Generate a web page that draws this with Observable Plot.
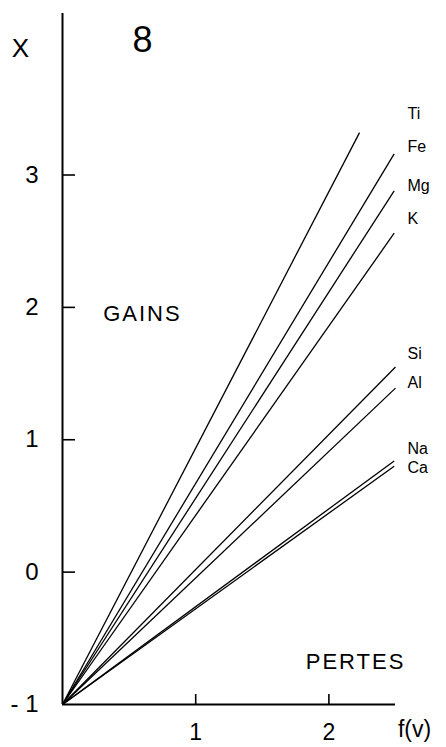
<!DOCTYPE html>
<html>
<head>
<meta charset="utf-8">
<script src="https://cdn.jsdelivr.net/npm/d3@7"></script>
<script src="https://cdn.jsdelivr.net/npm/@observablehq/plot@0.6"></script>
<style>
  html, body { margin: 0; padding: 0; background: #fff; }
  svg { font-family: "Liberation Sans", Arial, sans-serif; }
</style>
</head>
<body>
<div id="chart"></div>
<script>
// Elements and line end-points (f(v), X)
const elements = ["Ti", "Fe", "Mg", "K", "Si", "Al", "Na", "Ca"];
const endX = [2.23, 2.49, 2.49, 2.49, 2.50, 2.50, 2.49, 2.49];
const endY = [3.32, 3.16, 2.88, 2.56, 1.55, 1.39, 0.84, 0.80];
const labelY = [3.46, 3.21, 2.92, 2.67, 1.65, 1.43, 0.93, 0.79];
const labelX = 2.59;
const originX = 0;
const originY = -1;

const yTicks = [-1, 0, 1, 2, 3];
const xTicks = [1, 2];

const annotations = [
  {text: "GAINS", x: 0.6, y: 1.95},
  {text: "PERTES", x: 2.2, y: -0.68}
];

const W = 446, H = 747, mL = 62, mR = 51, mT = 13, mB = 43;
const frameW = W - mL - mR, frameH = H - mT - mB;

const lines = elements.map((e, i) => ({e, x1: originX, y1: originY, x2: endX[i], y2: endY[i]}));
const labels = elements.map((e, i) => ({e, x: labelX, y: labelY[i]}));

const plot = Plot.plot({
  width: W,
  height: H,
  marginLeft: mL,
  marginRight: mR,
  marginTop: mT,
  marginBottom: mB,
  x: {domain: [0, 2.5]},
  y: {domain: [-1, 4.22]},
  style: {background: "#fff", color: "#000", overflow: "visible"},
  marks: [
    Plot.ruleX([0], {stroke: "#000", strokeWidth: 2}),
    Plot.ruleY([-1], {stroke: "#000", strokeWidth: 2}),
    Plot.tickY(yTicks.filter(d => d > -1), {y: d => d, insetRight: frameW - 13, stroke: "#000", strokeWidth: 1.6}),
    Plot.tickX(xTicks, {x: d => d, insetTop: frameH - 10, stroke: "#000", strokeWidth: 1.6}),
    Plot.axisY({ticks: yTicks, tickSize: 0, tickPadding: 24, fontSize: 24,
      tickFormat: d => d === -1 ? "- 1" : String(d), label: null}),
    Plot.axisX({ticks: xTicks, tickSize: 0, tickPadding: 19, fontSize: 23, tickFormat: d => String(d), label: null}),
    Plot.text(["f(v)"], {frameAnchor: "bottom-right", lineAnchor: "middle", dx: 19, dy: 25, fontSize: 23, textAnchor: "middle"}),
    Plot.text(["X"], {frameAnchor: "top-left", lineAnchor: "middle", dx: -42, dy: 35, fontSize: 26, textAnchor: "middle"}),
    Plot.text(["8"], {frameAnchor: "top-left", lineAnchor: "middle", dx: 80, dy: 27, fontSize: 36, textAnchor: "middle"}),
    Plot.link(lines, {x1: "x1", y1: "y1", x2: "x2", y2: "y2", stroke: "#000", strokeWidth: 1.3}),
    Plot.text(labels, {x: "x", y: "y", text: "e", textAnchor: "start", fontSize: 16}),
    Plot.text(annotations, {x: "x", y: "y", text: "text", fontSize: 22, textAnchor: "middle"})
  ]
});
d3.select(plot).selectAll("text").filter(function() {
  const t = this.textContent; return t === "GAINS" || t === "PERTES";
}).style("letter-spacing", "2px");
document.getElementById("chart").appendChild(plot);
</script>
</body>
</html>
